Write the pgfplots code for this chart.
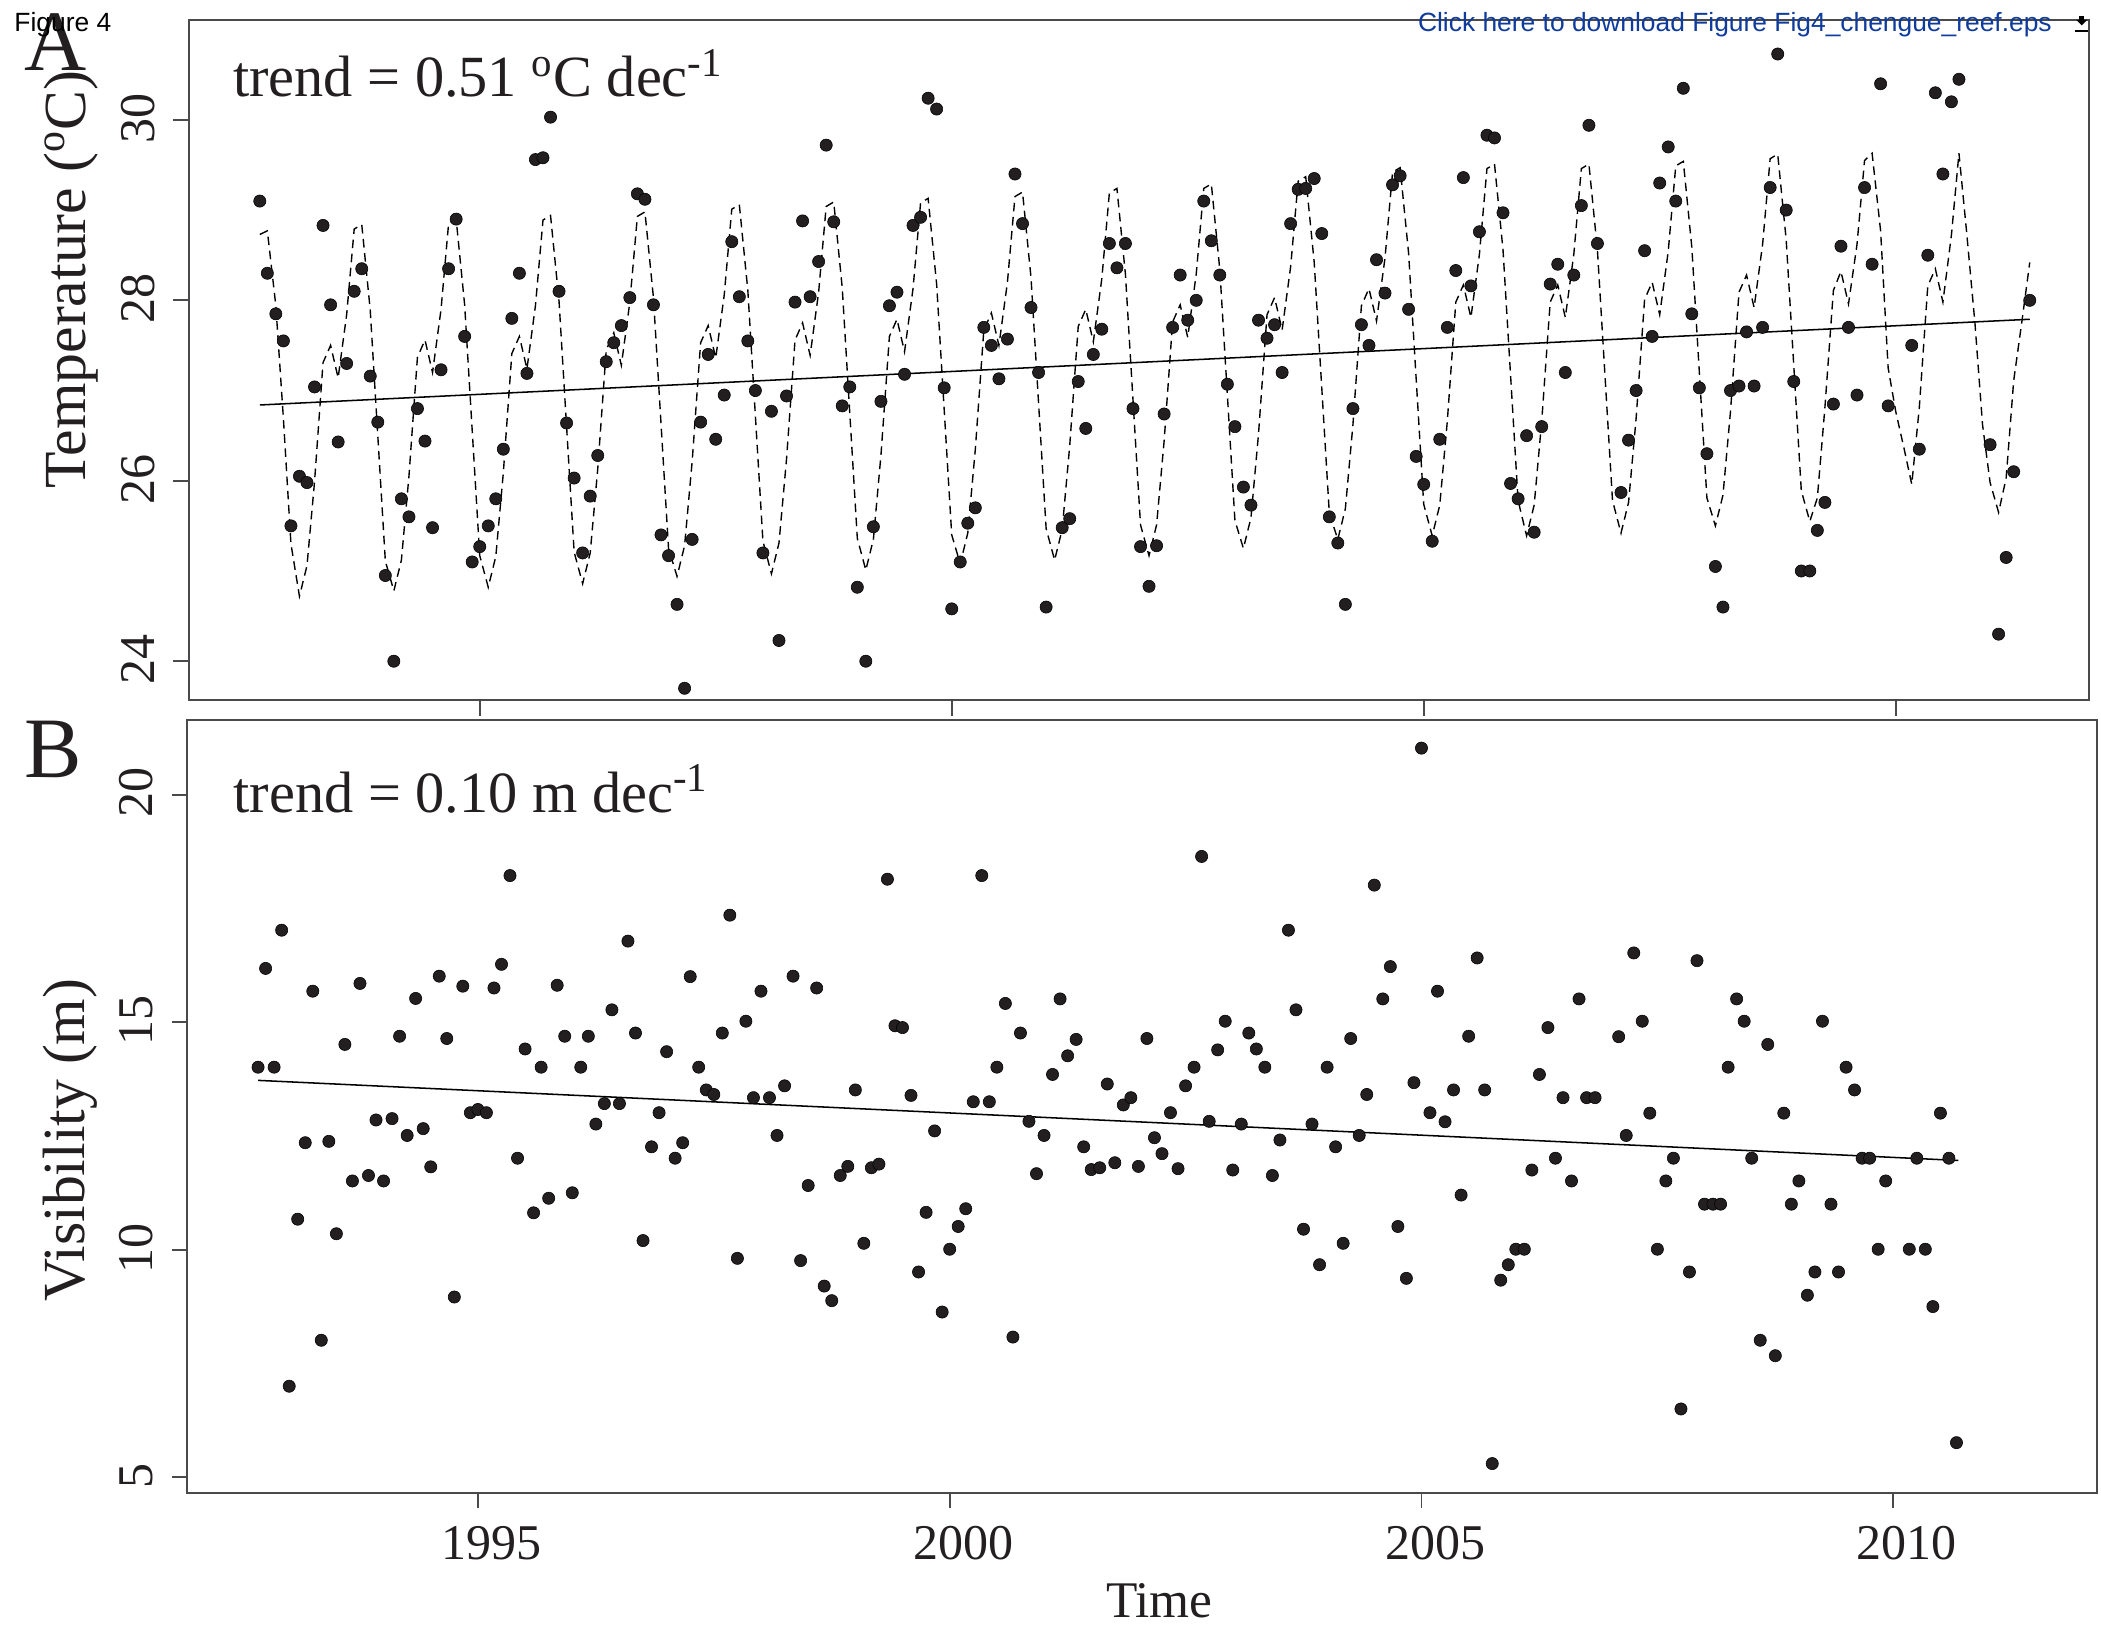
\documentclass[border=0pt]{standalone}
\usepackage{pgfplots}
\pgfplotsset{compat=1.18}
\usepackage{fontspec}
\setmainfont{Liberation Serif}
\newfontfamily\arial{Liberation Sans}
\definecolor{ink}{HTML}{231F20}
\definecolor{frame}{HTML}{4A4A4C}
\definecolor{linkblue}{HTML}{0F3C9C}
\pgfplotsset{
  common/.style={
    scale only axis, clip=false,
    axis line style={frame,line width=0.8pt},
    tick style={frame,line width=0.7pt},
    major tick length=5.6pt, tick align=outside,
    xtick pos=lower, ytick pos=left,
    xtick={1995,2000,2005,2010},
    minor tick num=0,
    tick label style={font=\fontsize{18}{20}\selectfont,text=ink},
    yticklabel style={rotate=90,anchor=south,xshift=0.6pt,yshift=3.2pt},
    xticklabel style={xshift=4.9pt,yshift=-2.9pt},
    label style={text=ink},
    ylabel style={font=\fontsize{21.5}{25}\selectfont},
    xlabel style={font=\fontsize{18.5}{22}\selectfont},
  },
  dots/.style={only marks,mark=*,mark size=2.2pt,mark options={fill=ink,draw=black,line width=0.2pt}},
  fitline/.style={black,line width=0.55pt,no marks},
  seasonal/.style={black,line width=0.5pt,no marks,dash pattern=on 3.1pt off 2pt},
}
\begin{document}
\begin{tikzpicture}[x=1pt,y=1pt]
\path[use as bounding box] (0,0) rectangle (756.36,587.52);

\begin{axis}[common, at={(68.04pt,335.52pt)}, anchor=south west,
  width=683.9pt, height=244.8pt,
  xmin=1991.92, xmax=2012.045, ymin=23.57, ymax=31.107,
  ytick={24,26,28,30}, yticklabels={24,26,28,30}, xticklabels={},
  ylabel={Temperature (\textsuperscript{o}C)},
  ylabel style={at={(rel axis cs:0,0.618)},xshift=0pt,yshift=42.6pt,anchor=center},
]
\addplot[seasonal] coordinates {
(1992.67,28.73)(1992.75,28.77)(1992.84,27.94)(1992.92,26.69)(1993.00,25.30)
(1993.09,24.72)(1993.17,25.06)(1993.25,25.99)(1993.34,27.31)(1993.42,27.50)(1993.50,27.14)(1993.59,27.84)(1993.67,28.79)(1993.75,28.84)(1993.84,27.89)(1993.92,26.50)(1994.00,25.11)
(1994.09,24.78)(1994.17,25.12)(1994.25,26.05)(1994.34,27.37)(1994.42,27.56)(1994.50,27.20)(1994.59,27.90)(1994.67,28.85)(1994.75,28.90)(1994.84,27.95)(1994.92,26.56)(1995.00,25.17)
(1995.09,24.82)(1995.17,25.16)(1995.25,26.09)(1995.34,27.41)(1995.42,27.60)(1995.50,27.24)(1995.59,27.94)(1995.67,28.89)(1995.75,28.94)(1995.84,27.99)(1995.92,26.60)(1996.00,25.21)
(1996.09,24.86)(1996.17,25.20)(1996.25,26.13)(1996.34,27.45)(1996.42,27.64)(1996.50,27.28)(1996.59,27.98)(1996.67,28.93)(1996.75,28.98)(1996.84,28.03)(1996.92,26.64)(1997.00,25.25)
(1997.09,24.94)(1997.17,25.28)(1997.25,26.21)(1997.34,27.53)(1997.42,27.72)(1997.50,27.36)(1997.59,28.06)(1997.67,29.01)(1997.75,29.06)(1997.84,28.11)(1997.92,26.72)(1998.00,25.33)
(1998.09,24.97)(1998.17,25.31)(1998.25,26.24)(1998.34,27.56)(1998.42,27.75)(1998.50,27.39)(1998.59,28.09)(1998.67,29.04)(1998.75,29.09)(1998.84,28.14)(1998.92,26.75)(1999.00,25.36)
(1999.09,25.01)(1999.17,25.35)(1999.25,26.28)(1999.34,27.60)(1999.42,27.79)(1999.50,27.43)(1999.59,28.13)(1999.67,29.08)(1999.75,29.13)(1999.84,28.18)(1999.92,26.79)(2000.00,25.40)
(2000.09,25.08)(2000.17,25.42)(2000.25,26.35)(2000.34,27.67)(2000.42,27.86)(2000.50,27.50)(2000.59,28.20)(2000.67,29.15)(2000.75,29.20)(2000.84,28.25)(2000.92,26.86)(2001.00,25.47)
(2001.09,25.12)(2001.17,25.46)(2001.25,26.39)(2001.34,27.71)(2001.42,27.90)(2001.50,27.54)(2001.59,28.24)(2001.67,29.19)(2001.75,29.24)(2001.84,28.29)(2001.92,26.90)(2002.00,25.51)
(2002.09,25.17)(2002.17,25.51)(2002.25,26.44)(2002.34,27.76)(2002.42,27.95)(2002.50,27.59)(2002.59,28.29)(2002.67,29.24)(2002.75,29.29)(2002.84,28.34)(2002.92,26.95)(2003.00,25.56)
(2003.09,25.25)(2003.17,25.59)(2003.25,26.52)(2003.34,27.84)(2003.42,28.03)(2003.50,27.67)(2003.59,28.37)(2003.67,29.32)(2003.75,29.37)(2003.84,28.42)(2003.92,27.03)(2004.00,25.64)
(2004.09,25.35)(2004.17,25.69)(2004.25,26.62)(2004.34,27.94)(2004.42,28.13)(2004.50,27.77)(2004.59,28.47)(2004.67,29.42)(2004.75,29.47)(2004.84,28.52)(2004.92,27.13)(2005.00,25.74)
(2005.09,25.39)(2005.17,25.73)(2005.25,26.66)(2005.34,27.98)(2005.42,28.17)(2005.50,27.81)(2005.59,28.51)(2005.67,29.46)(2005.75,29.51)(2005.84,28.56)(2005.92,27.17)(2006.00,25.78)
(2006.09,25.39)(2006.17,25.73)(2006.25,26.66)(2006.34,27.98)(2006.42,28.17)(2006.50,27.81)(2006.59,28.51)(2006.67,29.46)(2006.75,29.51)(2006.84,28.56)(2006.92,27.17)(2007.00,25.78)
(2007.09,25.42)(2007.17,25.76)(2007.25,26.69)(2007.34,28.01)(2007.42,28.20)(2007.50,27.84)(2007.59,28.54)(2007.67,29.49)(2007.75,29.54)(2007.84,28.59)(2007.92,27.20)(2008.00,25.81)
(2008.09,25.50)(2008.17,25.84)(2008.25,26.77)(2008.34,28.09)(2008.42,28.28)(2008.50,27.92)(2008.59,28.62)(2008.67,29.57)(2008.75,29.62)(2008.84,28.67)(2008.92,27.28)(2009.00,25.89)
(2009.09,25.55)(2009.17,25.81)(2009.25,26.81)(2009.34,28.11)(2009.42,28.32)(2009.50,27.96)(2009.59,28.62)(2009.67,29.55)(2009.75,29.63)(2009.84,28.77)(2009.92,27.25)(2010.00,26.77)
(2010.09,26.35)(2010.17,25.96)(2010.25,26.81)(2010.34,28.16)(2010.42,28.35)(2010.50,27.98)(2010.59,28.72)(2010.67,29.63)(2010.75,28.77)(2010.84,27.74)(2010.92,26.62)(2011.00,25.98)
(2011.09,25.65)(2011.17,26.03)(2011.25,27.11)(2011.34,27.79)(2011.42,28.42)
};
\addplot[fitline] coordinates {(1992.67,26.84)(2011.42,27.79)};
\addplot[dots] coordinates {
(1992.67,29.10)(1992.75,28.30)(1992.84,27.85)(1992.92,27.55)
(1993.00,25.50)(1993.09,26.05)(1993.17,25.98)(1993.25,27.04)(1993.34,28.83)(1993.42,27.95)(1993.50,26.43)(1993.59,27.30)(1993.67,28.10)(1993.75,28.35)(1993.84,27.16)(1993.92,26.65)
(1994.00,24.95)(1994.09,24.00)(1994.17,25.80)(1994.25,25.60)(1994.34,26.80)(1994.42,26.44)(1994.50,25.48)(1994.59,27.23)(1994.67,28.35)(1994.75,28.90)(1994.84,27.60)(1994.92,25.10)
(1995.00,25.27)(1995.09,25.50)(1995.17,25.80)(1995.25,26.35)(1995.34,27.80)(1995.42,28.30)(1995.50,27.19)(1995.59,29.56)(1995.67,29.58)(1995.75,30.03)(1995.84,28.10)(1995.92,26.64)
(1996.00,26.03)(1996.09,25.20)(1996.17,25.83)(1996.25,26.28)(1996.34,27.32)(1996.42,27.53)(1996.50,27.72)(1996.59,28.03)(1996.67,29.18)(1996.75,29.12)(1996.84,27.95)(1996.92,25.40)
(1997.00,25.17)(1997.09,24.63)(1997.17,23.70)(1997.25,25.35)(1997.34,26.65)(1997.42,27.40)(1997.50,26.46)(1997.59,26.95)(1997.67,28.65)(1997.75,28.04)(1997.84,27.55)(1997.92,27.00)
(1998.00,25.20)(1998.09,26.77)(1998.17,24.23)(1998.25,26.94)(1998.34,27.98)(1998.42,28.88)(1998.50,28.04)(1998.59,28.43)(1998.67,29.72)(1998.75,28.87)(1998.84,26.83)(1998.92,27.04)
(1999.00,24.82)(1999.09,24.00)(1999.17,25.49)(1999.25,26.88)(1999.34,27.94)(1999.42,28.09)(1999.50,27.18)(1999.59,28.83)(1999.67,28.92)(1999.75,30.24)(1999.84,30.12)(1999.92,27.03)
(2000.00,24.58)(2000.09,25.10)(2000.17,25.53)(2000.25,25.70)(2000.34,27.70)(2000.42,27.50)(2000.50,27.13)(2000.59,27.57)(2000.67,29.40)(2000.75,28.85)(2000.84,27.92)(2000.92,27.20)
(2001.00,24.60)(2001.17,25.48)(2001.25,25.58)(2001.34,27.10)(2001.42,26.58)(2001.50,27.40)(2001.59,27.68)(2001.67,28.63)(2001.75,28.36)(2001.84,28.63)(2001.92,26.80)
(2002.00,25.27)(2002.09,24.83)(2002.17,25.28)(2002.25,26.74)(2002.34,27.70)(2002.42,28.28)(2002.50,27.78)(2002.59,28.00)(2002.67,29.10)(2002.75,28.66)(2002.84,28.28)(2002.92,27.07)
(2003.00,26.60)(2003.09,25.93)(2003.17,25.73)(2003.25,27.78)(2003.34,27.58)(2003.42,27.73)(2003.50,27.20)(2003.59,28.85)(2003.67,29.23)(2003.75,29.24)(2003.84,29.35)(2003.92,28.74)
(2004.00,25.60)(2004.09,25.31)(2004.17,24.63)(2004.25,26.80)(2004.34,27.73)(2004.42,27.50)(2004.50,28.45)(2004.59,28.08)(2004.67,29.28)(2004.75,29.38)(2004.84,27.90)(2004.92,26.27)
(2005.00,25.96)(2005.09,25.33)(2005.17,26.46)(2005.25,27.70)(2005.34,28.33)(2005.42,29.36)(2005.50,28.16)(2005.59,28.76)(2005.67,29.83)(2005.75,29.80)(2005.84,28.97)(2005.92,25.97)
(2006.00,25.80)(2006.09,26.50)(2006.17,25.43)(2006.25,26.60)(2006.34,28.18)(2006.42,28.40)(2006.50,27.20)(2006.59,28.28)(2006.67,29.05)(2006.75,29.94)(2006.84,28.63)
(2007.09,25.87)(2007.17,26.45)(2007.25,27.00)(2007.34,28.55)(2007.42,27.60)(2007.50,29.30)(2007.59,29.70)(2007.67,29.10)(2007.75,30.35)(2007.84,27.85)(2007.92,27.03)
(2008.00,26.30)(2008.09,25.05)(2008.17,24.60)(2008.25,27.00)(2008.34,27.05)(2008.42,27.65)(2008.50,27.05)(2008.59,27.70)(2008.67,29.25)(2008.75,30.73)(2008.84,29.00)(2008.92,27.10)
(2009.00,25.00)(2009.09,25.00)(2009.17,25.45)(2009.25,25.76)(2009.34,26.85)(2009.42,28.60)(2009.50,27.70)(2009.59,26.95)(2009.67,29.25)(2009.75,28.40)(2009.84,30.40)(2009.92,26.83)
(2010.17,27.50)(2010.25,26.35)(2010.34,28.50)(2010.42,30.30)(2010.50,29.40)(2010.59,30.20)(2010.67,30.45)
(2011.00,26.40)(2011.09,24.30)(2011.17,25.15)(2011.25,26.10)(2011.42,28.00)
};
\end{axis}

\begin{axis}[common, at={(67.43pt,50.15pt)}, anchor=south west,
  width=687.5pt, height=278.2pt,
  xmin=1991.92, xmax=2012.16, ymin=4.66, ymax=21.64,
  ytick={5,10,15,20}, yticklabels={5,10,15,20}, xticklabels={1995,2000,2005,2010},
  xlabel={Time}, ylabel={Visibility (m)},
  xlabel style={at={(rel axis cs:0.509,0)},yshift=-39pt,anchor=center},
  ylabel style={at={(rel axis cs:0,0.456)},yshift=42pt,anchor=center},
]
\addplot[fitline] coordinates {(1992.67,13.72)(2010.69,11.96)};
\addplot[dots] coordinates {
(1992.67,14.01)(1992.75,16.18)(1992.84,14.01)(1992.92,17.02)
(1993.00,7.00)(1993.09,10.67)(1993.17,12.35)(1993.25,15.68)(1993.34,8.01)(1993.42,12.38)(1993.50,10.35)(1993.59,14.51)(1993.67,11.51)(1993.75,15.85)(1993.84,11.63)(1993.92,12.85)
(1994.00,11.51)(1994.09,12.88)(1994.17,14.69)(1994.25,12.51)(1994.34,15.52)(1994.42,12.66)(1994.50,11.82)(1994.59,16.01)(1994.67,14.64)(1994.75,8.96)(1994.84,15.79)(1994.92,13.01)
(1995.00,13.08)(1995.09,13.01)(1995.17,15.75)(1995.25,16.27)(1995.34,18.22)(1995.42,12.01)(1995.50,14.41)(1995.59,10.81)(1995.67,14.01)(1995.75,11.13)(1995.84,15.81)(1995.92,14.69)
(1996.00,11.25)(1996.09,14.01)(1996.17,14.69)(1996.25,12.76)(1996.34,13.21)(1996.42,15.27)(1996.50,13.21)(1996.59,16.78)(1996.67,14.76)(1996.75,10.20)(1996.84,12.26)(1996.92,13.01)
(1997.00,14.35)(1997.09,12.01)(1997.17,12.35)(1997.25,16.00)(1997.34,14.01)(1997.42,13.51)(1997.50,13.41)(1997.59,14.76)(1997.67,17.35)(1997.75,9.81)(1997.84,15.02)(1997.92,13.34)
(1998.00,15.68)(1998.09,13.34)(1998.17,12.51)(1998.25,13.60)(1998.34,16.01)(1998.42,9.76)(1998.50,11.41)(1998.59,15.75)(1998.67,9.20)(1998.75,8.88)(1998.84,11.63)(1998.92,11.83)
(1999.00,13.51)(1999.09,10.14)(1999.17,11.80)(1999.25,11.88)(1999.34,18.14)(1999.42,14.92)(1999.50,14.88)(1999.59,13.39)(1999.67,9.51)(1999.75,10.82)(1999.84,12.61)(1999.92,8.63)
(2000.00,10.01)(2000.09,10.51)(2000.17,10.90)(2000.25,13.25)(2000.34,18.22)(2000.42,13.25)(2000.50,14.01)(2000.59,15.41)(2000.67,8.08)(2000.75,14.76)(2000.84,12.82)(2000.92,11.67)
(2001.00,12.51)(2001.09,13.85)(2001.17,15.51)(2001.25,14.26)(2001.34,14.62)(2001.42,12.26)(2001.50,11.76)(2001.59,11.80)(2001.67,13.64)(2001.75,11.91)(2001.84,13.18)(2001.92,13.34)
(2002.00,11.83)(2002.09,14.64)(2002.17,12.46)(2002.25,12.11)(2002.34,13.01)(2002.42,11.78)(2002.50,13.60)(2002.59,14.01)(2002.67,18.64)(2002.75,12.82)(2002.84,14.39)(2002.92,15.02)
(2003.00,11.75)(2003.09,12.76)(2003.17,14.76)(2003.25,14.41)(2003.34,14.01)(2003.42,11.63)(2003.50,12.41)(2003.59,17.02)(2003.67,15.27)(2003.75,10.45)(2003.84,12.76)(2003.92,9.67)
(2004.00,14.01)(2004.09,12.26)(2004.17,10.14)(2004.25,14.64)(2004.34,12.51)(2004.42,13.41)(2004.50,18.01)(2004.59,15.51)(2004.67,16.22)(2004.75,10.51)(2004.84,9.37)(2004.92,13.67)
(2005.00,21.02)(2005.09,13.01)(2005.17,15.68)(2005.25,12.81)(2005.34,13.51)(2005.42,11.20)(2005.50,14.69)(2005.59,16.41)(2005.67,13.51)(2005.75,5.30)(2005.84,9.33)(2005.92,9.67)
(2006.00,10.01)(2006.09,10.01)(2006.17,11.75)(2006.25,13.85)(2006.34,14.88)(2006.42,12.01)(2006.50,13.34)(2006.59,11.51)(2006.67,15.51)(2006.75,13.34)(2006.84,13.34)
(2007.09,14.68)(2007.17,12.51)(2007.25,16.52)(2007.34,15.02)(2007.42,13.00)(2007.50,10.01)(2007.59,11.51)(2007.67,12.01)(2007.75,6.50)(2007.84,9.51)(2007.92,16.35)
(2008.00,11.00)(2008.09,11.00)(2008.17,11.00)(2008.25,14.01)(2008.34,15.51)(2008.42,15.02)(2008.50,12.01)(2008.59,8.01)(2008.67,14.51)(2008.75,7.67)(2008.84,13.00)(2008.92,11.00)
(2009.00,11.51)(2009.09,9.00)(2009.17,9.51)(2009.25,15.02)(2009.34,11.00)(2009.42,9.51)(2009.50,14.01)(2009.59,13.51)(2009.67,12.01)(2009.75,12.01)(2009.84,10.01)(2009.92,11.51)
(2010.17,10.01)(2010.25,12.01)(2010.34,10.01)(2010.42,8.75)(2010.50,13.00)(2010.59,12.01)(2010.67,5.76)
};
\end{axis}

% panel letters and annotations (positions in reference px x 0.36)
\node[anchor=base west,inner sep=0pt,text=ink,font=\fontsize{31}{34}\selectfont] at (8.8,562.3) {A};
\node[anchor=base west,inner sep=0pt,text=ink,font=\fontsize{31}{34}\selectfont] at (8.8,307.8) {B};
\node[anchor=base west,inner sep=0pt,text=ink,font=\fontsize{21}{25}\selectfont] at (83.7,552.6) {trend = 0.51 \textsuperscript{o}C dec\textsuperscript{-1}};
\node[anchor=base west,inner sep=0pt,text=ink,font=\fontsize{21}{25}\selectfont] at (83.9,295.2) {trend = 0.10 m dec\textsuperscript{-1}};
\node[anchor=base west,inner sep=0pt,text=black,font=\arial\fontsize{9.5}{11}\selectfont] at (5,576) {Figure 4};
\node[anchor=base west,inner sep=0pt,text=linkblue,font=\arial\fontsize{9.5}{11}\selectfont] at (510.3,576) {Click here to download Figure Fig4\_chengue\_reef.eps};
\fill[black] (747.4,580.4) -- (751.4,580.4) -- (749.4,578.4) -- cycle;
\fill[black] (748.6,581.9) rectangle (750.2,580.4);
\draw[black,line width=0.5pt] (747,576.4) -- (751.8,576.4);
\end{tikzpicture}
\end{document}
